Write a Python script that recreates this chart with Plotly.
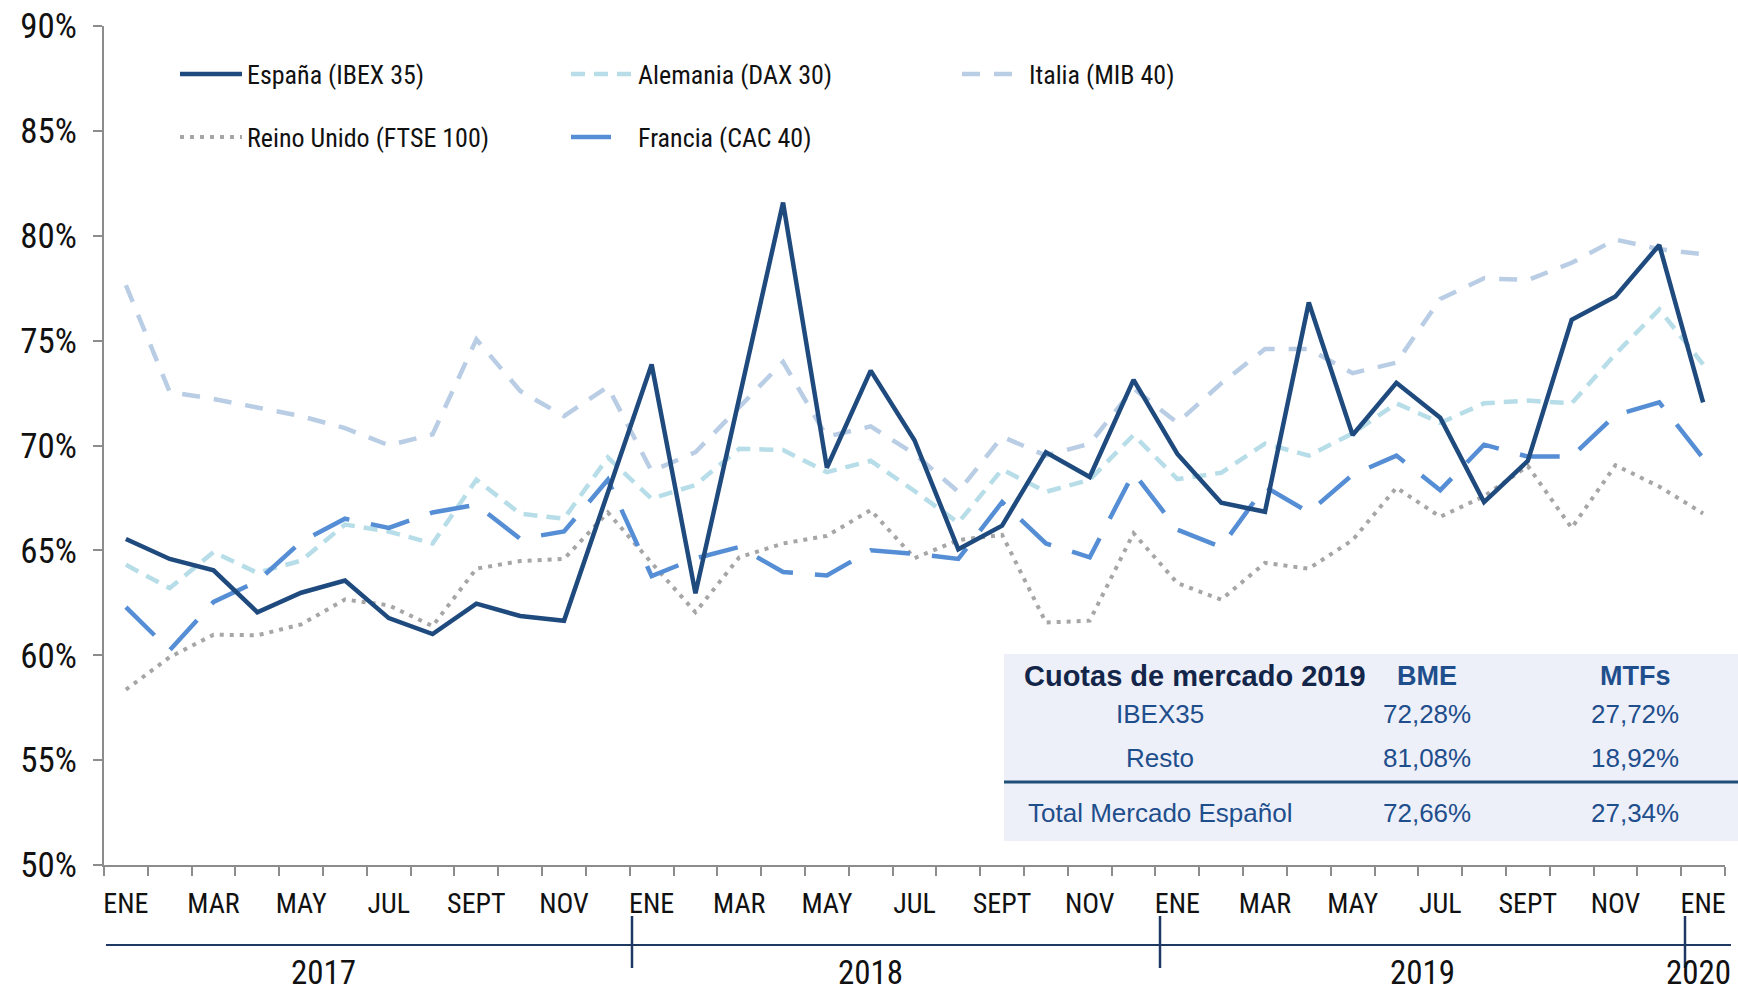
import plotly.graph_objects as go

# ---------------- data ----------------
months = ["ENE", "FEB", "MAR", "ABR", "MAY", "JUN", "JUL", "AGO", "SEPT", "OCT", "NOV", "DIC"]
years = ["2017", "2018", "2019", "2020"]
categories = [f"{m} {y}" for y in years[:3] for m in months] + ["ENE 2020"]
tick_labels = ["ENE", "MAR", "MAY", "JUL", "SEPT", "NOV"] * 3 + ["ENE"]
y_ticks = [50, 55, 60, 65, 70, 75, 80, 85, 90]
y_tick_labels = ["50%", "55%", "60%", "65%", "70%", "75%", "80%", "85%", "90%"]

espana = [65.54, 64.59, 64.05, 62.05, 62.98, 63.56, 61.77, 61.01, 62.46, 61.87, 61.64, 67.75,
          73.86, 62.95, 72.2, 81.58, 68.94, 73.57, 70.25, 65.05, 66.18, 69.68, 68.5, 73.13,
          69.6, 67.27, 66.84, 76.82, 70.5, 72.99, 71.32, 67.3, 69.27, 75.99, 77.1, 79.56, 72.06]
alemania = [64.31, 63.2, 64.92, 63.93, 64.51, 66.23, 65.9, 65.33, 68.37, 66.75, 66.51, 69.43,
            67.46, 68.12, 69.84, 69.79, 68.73, 69.27, 67.83, 66.32, 68.86, 67.79, 68.37, 70.5,
            68.4, 68.7, 70.09, 69.52, 70.58, 72.01, 71.08, 72.01, 72.14, 72.01, 74.36, 76.49, 73.87]
italia = [77.64, 72.55, 72.22, 71.81, 71.4, 70.83, 70.01, 70.53, 75.06, 72.6, 71.4, 72.8,
          68.78, 69.68, 71.81, 73.98, 70.42, 70.91, 69.6, 67.79, 70.42, 69.52, 70.09, 72.72,
          71.08, 72.96, 74.6, 74.6, 73.45, 73.95, 76.98, 77.97, 77.89, 78.71, 79.82, 79.36, 79.12]
reino_unido = [58.36, 59.91, 60.98, 60.95, 61.47, 62.66, 62.38, 61.39, 64.13, 64.49, 64.59, 66.81,
               64.4, 62.05, 64.67, 65.33, 65.69, 66.92, 64.63, 65.49, 65.74, 61.56, 61.65, 65.82,
               63.44, 62.65, 64.4, 64.13, 65.49, 67.99, 66.6, 67.58, 69.02, 66.07, 69.06, 68.04, 66.76]
francia = [62.29, 60.24, 62.54, 63.52, 65.41, 66.51, 66.07, 66.81, 67.18, 65.55, 65.9, 68.37,
           63.77, 64.62, 65.16, 63.97, 63.8, 65.0, 64.84, 64.59, 67.3, 65.33, 64.67, 68.7,
           65.99, 65.16, 68.04, 66.81, 68.61, 69.52, 67.87, 70.04, 69.47, 69.47, 71.45, 72.06, 69.4]

series_names = ["España (IBEX 35)", "Alemania (DAX 30)", "Italia (MIB 40)",
                "Reino Unido (FTSE 100)", "Francia (CAC 40)"]

table_title = "Cuotas de mercado 2019"
table_cols = ["BME", "MTFs"]
table_rows = ["IBEX35", "Resto", "Total Mercado Español"]
table_bme = ["72,28%", "81,08%", "72,66%"]
table_mtfs = ["27,72%", "18,92%", "27,34%"]

# ---------------- layout helpers ----------------
W, H = 1738, 993
L, R, T, B = 104, 13, 26, 128
PW, PH = W - L - R, H - T - B


def px(x):
    return (x - L) / PW


def py(y):
    return (H - B - y) / PH


NARROW = "Liberation Sans Narrow, Arial Narrow, Roboto Condensed, sans-serif"
ARIAL = "Liberation Sans, Arial, sans-serif"

x_idx = list(range(len(categories)))

styles = [
    dict(color="#1F4A7E", width=4.5, dash="solid"),
    dict(color="#B7DEE8", width=4.5, dash="14px,9px"),
    dict(color="#B9CDE5", width=4.5, dash="18px,14px"),
    dict(color="#A6A6A6", width=4, dash="4px,6px"),
    dict(color="#558ED5", width=4.5, dash="40px,22px"),
]
series = [espana, alemania, italia, reino_unido, francia]
legends = ["legend", "legend", "legend", "legend2", "legend2"]

fig = go.Figure()
order = [3, 2, 1, 4, 0]  # Spain drawn on top
for k in order:
    fig.add_trace(go.Scatter(
        x=x_idx, y=series[k], mode="lines", name=series_names[k],
        line=styles[k], legend=legends[k], legendrank=k + 1,
        customdata=categories, hovertemplate="%{customdata}: %{y:.2f}%<extra></extra>",
    ))

legend_common = dict(orientation="h", xanchor="left", yanchor="middle",
                     font=dict(family=NARROW, size=26, color="#111111"),
                     bgcolor="rgba(0,0,0,0)", itemwidth=62, entrywidth=314,
                     traceorder="normal")

fig.update_layout(
    width=W, height=H,
    margin=dict(l=L, r=R, t=T, b=B, autoexpand=False),
    paper_bgcolor="white", plot_bgcolor="white",
    showlegend=True,
    legend=dict(x=px(175), y=py(74), **legend_common),
    legend2=dict(x=px(175), y=py(137), **legend_common),
    xaxis=dict(
        range=[-0.5, len(categories) - 0.5], showgrid=False, zeroline=False,
        showline=True, linecolor="#8C8C8C", linewidth=2,
        tickvals=x_idx[::2], ticktext=tick_labels, ticks="",
        tickfont=dict(family=NARROW, size=28, color="#111111"),
        ticklabelstandoff=12,
        minor=dict(tick0=-0.5, dtick=1, ticks="outside", ticklen=9,
                   tickcolor="#8C8C8C", tickwidth=2, showgrid=False),
    ),
    yaxis=dict(
        range=[50, 90], tickvals=y_ticks, ticktext=y_tick_labels,
        showgrid=False, zeroline=False, showline=True, linecolor="#8C8C8C", linewidth=2,
        ticks="outside", ticklen=9, tickcolor="#8C8C8C", tickwidth=2,
        tickfont=dict(family=NARROW, size=35, color="#111111"),
        ticklabelstandoff=9,
    ),
)

shapes = []
annotations = []

# year axis (second level of category axis)
shapes.append(dict(type="line", xref="paper", yref="paper", x0=px(106), x1=px(1731),
                   y0=py(945), y1=py(945), line=dict(color="#1F3864", width=2)))
for sx in [632, 1160, 1685]:
    shapes.append(dict(type="line", xref="paper", yref="paper", x0=px(sx), x1=px(sx),
                       y0=py(916), y1=py(968), line=dict(color="#1F3864", width=2.5)))
year_pos = [4.5, 17.0, 29.6, 35.9]
for yr, xp in zip(years, year_pos):
    annotations.append(dict(x=xp, y=py(994), xref="x", yref="paper", text=yr,
                            showarrow=False, xanchor="center", yanchor="bottom",
                            font=dict(family=NARROW, size=33, color="#111111")))

# market share table
shapes.append(dict(type="rect", xref="paper", yref="paper", x0=px(1004), x1=px(1738),
                   y0=py(841), y1=py(654), fillcolor="#EDF0F8", line=dict(width=0),
                   layer="above"))
shapes.append(dict(type="line", xref="paper", yref="paper", x0=px(1004), x1=px(1738),
                   y0=py(782), y1=py(782), line=dict(color="#1F4E79", width=3)))

annotations.append(dict(x=px(1022), y=py(676), xref="paper", yref="paper",
                        text=f"<b>{table_title}</b>",
                        showarrow=False, xanchor="left", yanchor="middle",
                        font=dict(family=ARIAL, size=29, color="#13264A")))
for col, cx in zip(table_cols, [1427, 1635]):
    annotations.append(dict(x=px(cx), y=py(676), xref="paper", yref="paper", text=f"<b>{col}</b>",
                            showarrow=False, xanchor="center", yanchor="middle",
                            font=dict(family=ARIAL, size=27, color="#1F4E8C")))
row_y = [714, 758, 813]
for name, bme, mtf, ry in zip(table_rows, table_bme, table_mtfs, row_y):
    for txt, cx in [(name, 1160), (bme, 1427), (mtf, 1635)]:
        annotations.append(dict(x=px(cx), y=py(ry), xref="paper", yref="paper", text=txt,
                                showarrow=False, xanchor="center", yanchor="middle",
                                font=dict(family=ARIAL, size=26, color="#1F4E8C")))

fig.update_layout(shapes=shapes, annotations=annotations)
fig.write_html("out.html",
               config={"displayModeBar": False},
               post_script="document.body.style.margin='0';"
                           "document.body.style.overflow='hidden';")
